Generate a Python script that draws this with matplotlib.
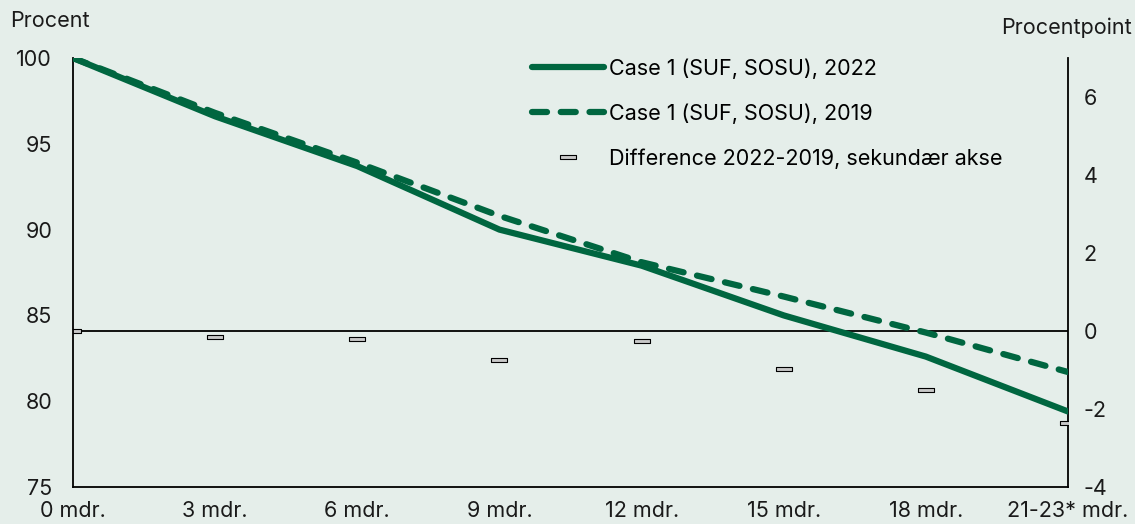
import matplotlib
matplotlib.use("Agg")
import matplotlib.pyplot as plt
from matplotlib.path import Path
import numpy as np

categories = ["0 mdr.", "3 mdr.", "6 mdr.", "9 mdr.", "12 mdr.", "15 mdr.", "18 mdr.", "21-23* mdr."]
case_2022 = [100.0, 96.6, 93.7, 90.0, 87.9, 85.0, 82.6, 79.4]
case_2019 = [100.0, 96.8, 93.9, 90.8, 88.1, 86.1, 84.0, 81.7]
difference = [0.0, -0.15, -0.2, -0.75, -0.26, -0.97, -1.5, -2.35]

green = "#006640"
bg = "#e5eeea"
fs = 15.5

plt.rcParams['font.family'] = ['Inter', 'DejaVu Sans']
plt.rcParams['axes.unicode_minus'] = False

fig = plt.figure(figsize=(11.35, 5.24), dpi=100, facecolor=bg)
ax = fig.add_axes([73/1135, 1-487/524, (1068-73)/1135, (487-58)/524])
ax.set_facecolor(bg)
x = np.arange(len(categories))

l1, = ax.plot(x, case_2022, color=green, lw=4.5, solid_capstyle='round', label="Case 1 (SUF, SOSU), 2022", zorder=3)
l2, = ax.plot(x, case_2019, color=green, lw=4.5, ls=(0, (2.4, 2.2)), dash_capstyle='round', label="Case 1 (SUF, SOSU), 2019", zorder=3)
ax.set_ylim(75, 100)
ax.set_xlim(0, len(categories) - 1)
ax.set_yticks([75, 80, 85, 90, 95, 100])
ax.set_xticks(x)
ax.set_xticklabels(categories)
ax.tick_params(axis='both', length=0, labelsize=fs, colors='#1a1a1a')
ax.tick_params(axis='y', pad=15)
ax.tick_params(axis='x', pad=10)
ax.spines['top'].set_visible(False)
ax.spines['right'].set_visible(False)
for s in ['left', 'bottom']:
    ax.spines[s].set_linewidth(1.3)

ax2 = ax.twinx()
ax2.set_ylim(-4, 7)
ax2.set_yticks([-4, -2, 0, 2, 4, 6])
ax2.tick_params(axis='y', length=0, labelsize=fs, pad=11, colors='#1a1a1a')
ax2.spines['top'].set_visible(False)
ax2.spines['left'].set_visible(False)
ax2.spines['bottom'].set_visible(False)
ax2.spines['right'].set_linewidth(1.3)
ax2.axhline(0, color='black', lw=1.3, zorder=1)
rect = Path([(-1, -0.2), (1, -0.2), (1, 0.2), (-1, 0.2), (-1, -0.2)],
            [Path.MOVETO, Path.LINETO, Path.LINETO, Path.LINETO, Path.CLOSEPOLY])
l3, = ax2.plot(x, difference, ls='none', marker=rect, markersize=11, markerfacecolor='#c8c8c8',
               markeredgecolor='black', markeredgewidth=0.8, label="Difference 2022-2019, sekundær akse", zorder=4)
ax.set_zorder(ax2.get_zorder() + 1)
ax.patch.set_visible(False)
ax2.patch.set_visible(True)
ax2.patch.set_facecolor(bg)

leg = ax.legend(handles=[l1, l2, l3], loc='upper left', bbox_to_anchor=(0.442, 1.045),
                frameon=False, fontsize=fs, handlelength=3.35, handletextpad=0.2, labelspacing=1.14)

fig.text(10/1135, 1-21/524, "Procent", fontsize=fs, va='center', ha='left', color='#1a1a1a')
fig.text(1132/1135, 1-28/524, "Procentpoint", fontsize=fs, va='center', ha='right', color='#1a1a1a')

fig.savefig("out.png", dpi=100, facecolor=bg)
